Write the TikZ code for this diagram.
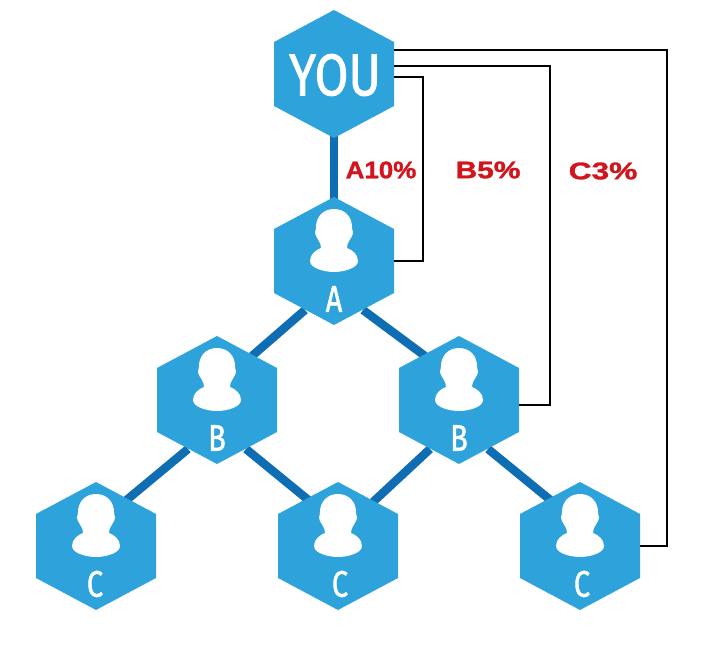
\documentclass[tikz,border=0pt]{standalone}
\usepackage{fontspec}
\usetikzlibrary{calc,backgrounds}
\newfontfamily\hexfont[FakeBold=1.5]{Fira Sans}
\newfontfamily\pctfont[BoldFeatures={FakeBold=1.2}]{Liberation Sans}
\definecolor{hexblue}{HTML}{2EA3DB}
\definecolor{linkblue}{HTML}{0F6DB4}
\definecolor{pctred}{HTML}{D2141C}
\tikzset{
  hexbox/.style={minimum width=120pt,minimum height=128pt,inner sep=0pt,draw=none},
  hexfill/.style={fill=hexblue},
  persona/.style={fill=white},
  hexlabel/.style={text=white,inner sep=0pt,font=\hexfont\fontsize{37}{37}\selectfont},
  youlabel/.style={text=white,inner sep=0pt,font=\hexfont\fontsize{59}{59}\selectfont},
  pctlabel/.style={text=pctred,inner sep=0pt,font=\pctfont\bfseries\fontsize{24}{24}\selectfont},
  linkthick/.style={draw=linkblue,line width=8.5pt},
  feeline/.style={draw=black,line width=2pt,line join=miter}
}
\newcommand{\hexshape}[2]{%
  \node[hexbox] (#1) at (#2) {};
  \fill[hexfill] ($(#1.center)+(0,-64)$) -- ($(#1.center)+(60,-32)$) -- ($(#1.center)+(60,32)$)
    -- ($(#1.center)+(0,64)$) -- ($(#1.center)+(-60,32)$) -- ($(#1.center)+(-60,-32)$) -- cycle;
  \coordinate (#1-ll) at ($(#1.center)+(-29,49)$);
  \coordinate (#1-lr) at ($(#1.center)+(29,49)$);
  \coordinate (#1-ul) at ($(#1.center)+(-34,-44)$);
  \coordinate (#1-ur) at ($(#1.center)+(35,-44)$);
}
\newcommand{\personhex}[4]{%
  \hexshape{#1}{#2}
  \begin{scope}[shift={(#1.center)}]
    \fill[persona] (0,-52) .. controls (11,-52) and (18,-44) .. (18,-34)
      .. controls (18,-30) and (20,-29) .. (18,-25)
      .. controls (16,-21) and (13,-18) .. (13,-13)
      .. controls (18,-11) and (24,-7) .. (24,0)
      .. controls (24,7) and (10,11) .. (0,11)
      .. controls (-10,11) and (-24,7) .. (-24,0)
      .. controls (-24,-7) and (-18,-11) .. (-13,-13)
      .. controls (-13,-18) and (-16,-21) .. (-18,-25)
      .. controls (-20,-29) and (-18,-30) .. (-18,-34)
      .. controls (-18,-44) and (-11,-52) .. (0,-52) -- cycle;
    \node[hexlabel] (#1-text) at (#4,38) {\scalebox{.78}[1]{#3}};
  \end{scope}
}
\begin{document}
\begin{tikzpicture}[x=1pt,y=-1pt]
\useasboundingbox (0,0) rectangle (720,647);
\hexshape{you}{334,74}
\node[youlabel] (youtext) at (335,75) {\scalebox{.83}[1]{YOU}};
\personhex{a}{334,261}{A}{0}
\personhex{bl}{217,400}{B}{0}
\personhex{br}{459,400}{B}{0}
\personhex{cl}{96,546}{C}{-1}
\personhex{cm}{338,546}{C}{2}
\personhex{cr}{580,546}{C}{2}
\coordinate (cl-ur) at ($(cl.center)+(27,-43)$);
\coordinate (cm-ul) at ($(cm.center)+(-26,-43)$);
\coordinate (cr-ul) at ($(cr.center)+(-26,-43)$);
\begin{scope}[on background layer]
  \draw[linkthick] (you.center) -- (a.center);
  \draw[linkthick] (a-ll) -- (bl-ur);
  \draw[linkthick] (a-lr) -- (br-ul);
  \draw[linkthick] (bl-ll) -- (cl-ur);
  \draw[linkthick] (bl-lr) -- (cm-ul);
  \draw[linkthick] (br-ll) -- (cm-ur);
  \draw[linkthick] (br-lr) -- (cr-ul);
\end{scope}
\coordinate (youa) at ($(you.east)+(0,3)$);
\coordinate (youb) at ($(you.east)+(0,-8)$);
\coordinate (youc) at ($(you.east)+(0,-24)$);
\coordinate (brport) at ($(br.east)+(0,5)$);
\coordinate (turna) at (423,77);
\coordinate (turnb) at (550,66);
\coordinate (turnc) at (667,50);
\draw[feeline] (youa) -- (turna) -- (turna |- a.east) -- (a.east);
\draw[feeline] (youb) -- (turnb) -- (turnb |- brport) -- (brport);
\draw[feeline] (youc) -- (turnc) -- (turnc |- cr.east) -- (cr.east);
\node[pctlabel] (pcta) at (381,170) {\scalebox{1.08}[1]{A10\%}};
\node[pctlabel] (pctb) at (488,170) {\scalebox{1.25}[1]{B5\%}};
\node[pctlabel] (pctc) at (603,171) {\scalebox{1.32}[1]{C3\%}};
\end{tikzpicture}
\end{document}
